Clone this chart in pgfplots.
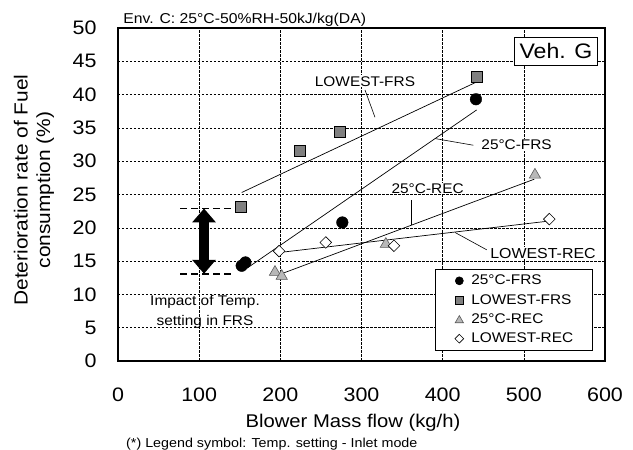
\documentclass[border=0pt]{standalone}
\usepackage{fontspec}
\setmainfont{Liberation Sans}[FakeStretch=1.1]
\usepackage{pgfplots}
\pgfplotsset{compat=1.18}
\usetikzlibrary{arrows.meta}
\newcommand{\fs}[2]{\fontsize{#1}{#2}\selectfont}
\begin{document}
\begin{tikzpicture}
\useasboundingbox (0,0) rectangle (633pt,450pt);
\begin{axis}[
  scale only axis, width=487pt, height=333pt,
  at={(118pt,89pt)}, anchor=south west,
  xmin=0, xmax=600, ymin=0, ymax=50,
  xtick={0,100,...,600}, ytick={0,5,...,50},
  grid=major,
  major grid style={black, line width=0.6pt, dash pattern=on 2.5pt off 1.5pt},
  axis line style={line width=1.5pt},
  major tick length=0pt,
  /pgf/number format/assume math mode=true,
  tick label style={font=\fs{19.5}{22}},
  yticklabel style={xshift=-18pt},
  xticklabel style={yshift=-23pt},
  xlabel={Blower Mass flow (kg/h)},
  xlabel style={at={(axis description cs:0.4825,-0.186)}, anchor=center, font=\fs{18.4}{20}},
  ylabel={Deterioration rate of Fuel\\consumption (\%)},
  ylabel style={at={(axis description cs:-0.1725,0.5135)}, anchor=center, align=center, font=\fs{19}{22.5}},
  clip=false,
  legend style={at={(axis description cs:0.651,0.276)}, anchor=north west,
    draw=black, line width=0.6pt, fill=white, font=\fs{14}{16},
    inner xsep=0pt, inner ysep=3.8pt, row sep=4pt,
    nodes={inner sep=2pt, text depth=0.15em},
    /tikz/every even column/.style={column sep=0pt}},
  legend cell align=left,
]
% trend lines
\addplot[black, line width=0.7pt, forget plot] coordinates {(152.4,25.3) (441.9,41.9)};
\addplot[black, line width=0.7pt, forget plot] coordinates {(158.5,13.9) (441.9,37.7)};
\addplot[black, line width=0.7pt, forget plot] coordinates {(203.7,13.2) (512.9,27.3)};
\addplot[black, line width=0.7pt, forget plot] coordinates {(199.6,16.3) (530.1,21.0)};
% data
\addplot[only marks, mark=*, mark size=5.8pt, mark options={draw=black, fill=black},
  legend image code/.code={\path[draw=none,fill=none] (-24pt,0pt) (10pt,0pt); \draw[mark size=4pt] plot coordinates {(0pt,0pt)};}]
  coordinates {(152.4,14.3) (157,14.8) (276.4,20.8) (441,39.3)};
\addlegendentry{25°C-FRS\hspace*{17pt}}
\addplot[only marks, mark=square*, mark size=5.5pt, mark options={draw=black, fill=gray, line width=0.6pt},
  legend image code/.code={\path[draw=none,fill=none] (-24pt,0pt) (10pt,0pt); \draw[mark size=3.8pt] plot coordinates {(0pt,0pt)};}]
  coordinates {(151,23.2) (223.4,31.6) (272.7,34.4) (441.9,42.6)};
\addlegendentry{LOWEST-FRS\hspace*{17pt}}
\addplot[only marks, mark=triangle*, mark size=6.5pt, mark options={draw=black!65, fill=black!28, line width=0.6pt},
  legend image code/.code={\path[draw=none,fill=none] (-24pt,0pt) (10pt,0pt); \draw[mark size=4.8pt] plot coordinates {(0pt,-1pt)};}]
  coordinates {(193.4,13.35) (201.7,12.75) (330,17.55) (513.7,27.95)};
\addlegendentry{25°C-REC\hspace*{17pt}}
\addplot[only marks, mark=square*, mark size=4.1pt, mark options={draw=black, fill=white, line width=0.6pt, rotate=45},
  legend image code/.code={\path[draw=none,fill=none] (-24pt,0pt) (10pt,0pt); \draw[mark size=3.1pt] plot coordinates {(0pt,0pt)};}]
  coordinates {(198.4,16.5) (256,17.8) (340,17.3) (531.4,21.3)};
\addlegendentry{LOWEST-REC\hspace*{17pt}}
% annotations
\node[font=\fs{14}{16}, fill=white, inner sep=1pt] at (axis cs:304.3,42.0) {LOWEST-FRS};
\draw[black, line width=0.6pt] (axis cs:304.3,40.7) -- (axis cs:316.6,36.6);
\node[font=\fs{14}{16}, fill=white, inner sep=1pt] at (axis cs:491.1,32.5) {25°C-FRS};
\draw[black, line width=0.6pt] (axis cs:437.7,32.4) -- (axis cs:390.6,33.4);
\node[font=\fs{14}{16}, fill=white, inner sep=1pt] at (axis cs:381.5,25.9) {25°C-REC};
\draw[black, line width=0.6pt] (axis cs:361.8,24.2) -- (axis cs:361.8,20.4);
\node[font=\fs{14.5}{16}, fill=white, inner sep=1pt] at (axis cs:523.6,16.2) {LOWEST-REC};
\draw[black, line width=0.6pt] (axis cs:454.2,16.7) -- (axis cs:415.2,19.3);
\node[font=\fs{14}{20}, align=center] at (axis cs:107.2,7.4) {Impact of Temp.\\setting in FRS};
\draw[black, line width=1.5pt, dash pattern=on 7pt off 4pt] (axis cs:76.4,22.9) -- (axis cs:140,22.9);
\draw[black, line width=1.5pt, dash pattern=on 7pt off 4pt] (axis cs:76.4,13.1) -- (axis cs:140,13.1);
\draw[black, line width=10pt, {Triangle[width=23pt,length=14pt]}-{Triangle[width=23pt,length=14pt]}] (axis cs:106,22.9) -- (axis cs:106,13.1);
\node[font=\fs{21}{24}, draw=black, line width=0.6pt, fill=white, inner xsep=5pt, inner ysep=6pt] at (axis cs:539.6,46.5) {Veh. G};
\node[font=\fs{14.3}{16}, anchor=base west, inner sep=0pt] at (axis cs:6.5,50.68) {Env. C: 25°C-50\%RH-50kJ/kg(DA)};
\node[font=\fs{13}{15}, anchor=west, inner sep=0pt] at (axis cs:9.9,-12.46) {(*) Legend symbol: Temp. setting - Inlet mode};
\end{axis}
\end{tikzpicture}
\end{document}
